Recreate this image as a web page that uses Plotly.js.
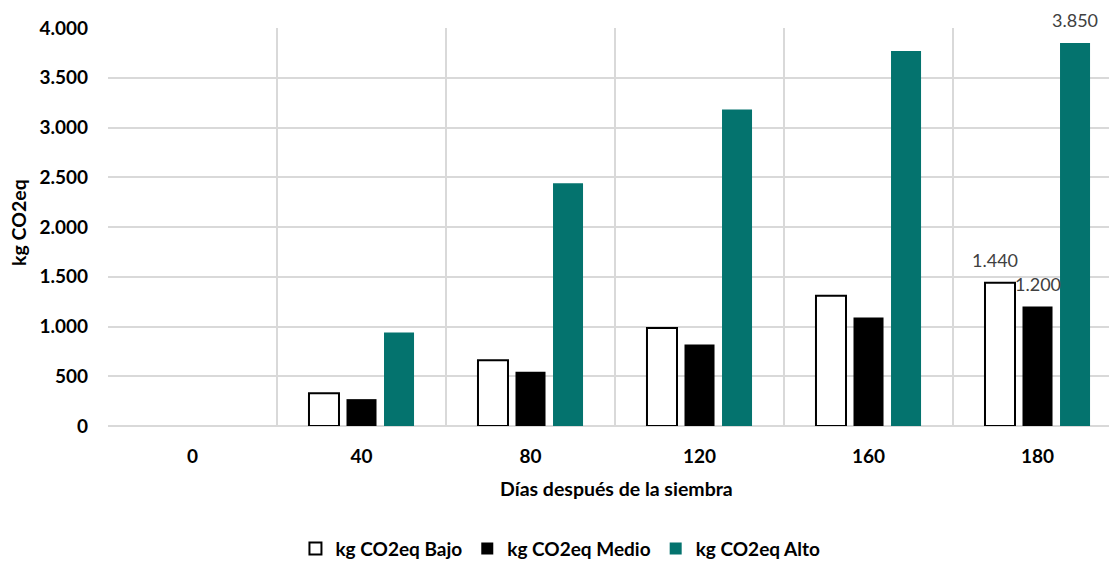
<!DOCTYPE html>
<html>
<head>
<meta charset="utf-8">
<script src="https://cdn.plot.ly/plotly-3.0.1.min.js"></script>
<style>html,body{margin:0;padding:0;background:#fff;}#chart{width:1109px;height:562px;}</style>
</head>
<body>
<div id="chart"></div>
<script>
const categories = ["0", "40", "80", "120", "160", "180"];
const bajo  = [0, 330, 660, 985, 1310, 1440];
const medio = [0, 270, 545, 820, 1090, 1200];
const alto  = [0, 940, 2440, 3180, 3770, 3850];
const seriesNames = ["kg CO2eq Bajo", "kg CO2eq Medio", "kg CO2eq Alto"];
const yTickVals = [0, 500, 1000, 1500, 2000, 2500, 3000, 3500, 4000];
const yTickText = ["0", "500", "1.000", "1.500", "2.000", "2.500", "3.000", "3.500", "4.000"];
const xTitle = "Días después de la siembra";
const yTitle = "kg CO2eq";
// labelled points: [series index, category index, value]
const labelled = [[0, 5, 1440], [1, 5, 1200], [2, 5, 3850]];

const FONT = "Lato, 'Open Sans', sans-serif";
const tickFont = {family: FONT, size: 19, color: "#000", weight: "bold"};
const titleFont = {family: FONT, size: 19.5, color: "#000", weight: "bold"};

// zero-height bars are not drawn in the reference (no outline at day 0)
const hideZero = arr => arr.map(v => (v > 0 ? v : null));

const traces = [
  {type: "bar", name: seriesNames[0], x: categories, y: hideZero(bajo),
   marker: {color: "#ffffff", line: {color: "#000000", width: 2}}},
  {type: "bar", name: seriesNames[1], x: categories, y: hideZero(medio),
   marker: {color: "#000000", line: {width: 0}}},
  {type: "bar", name: seriesNames[2], x: categories, y: hideZero(alto),
   marker: {color: "#04736E", line: {width: 0}}}
];

const offsets = [-0.222, 0, 0.222];
const xShifts = [-5, 0, 0];
const fmtThousands = v => (v >= 1000 ? Math.floor(v / 1000) + "." + String(v % 1000).padStart(3, "0") : String(v));
const annotations = labelled.map(([s, c, v]) => ({
  xref: "x", yref: "y", x: c + offsets[s], y: v,
  text: fmtThousands(v),
  showarrow: false, yshift: 23, xshift: xShifts[s],
  font: {family: FONT, size: 18, color: "#404040"}
}));
annotations.push({
  xref: "paper", yref: "paper", x: 0.5075, y: -0.158, xanchor: "center", yanchor: "middle",
  text: xTitle, showarrow: false, font: titleFont
});
annotations.push({
  xref: "paper", yref: "paper", x: -0.089, y: 0.5126, xanchor: "center", yanchor: "middle",
  text: yTitle, textangle: -90, showarrow: false, font: titleFont
});

const layout = {
  width: 1109, height: 562,
  margin: {l: 108, r: 0, t: 28, b: 136, autoexpand: false},
  paper_bgcolor: "#fff", plot_bgcolor: "#fff",
  barmode: "group", bargap: 0.334, bargroupgap: 0.2,
  showlegend: true,
  legend: {orientation: "h", x: 0.452, xanchor: "center", y: -0.308, yanchor: "middle",
           font: {family: FONT, size: 19, color: "#000", weight: "bold"}, traceorder: "normal"},
  xaxis: {type: "category", range: [-0.5, 5.423], tickson: "boundaries",
          showgrid: true, gridcolor: "#d9d9d9", gridwidth: 2,
          ticks: "", tickfont: tickFont, showline: false, zeroline: false,
          ticklabelstandoff: 17, automargin: false},
  yaxis: {range: [0, 4000], tickvals: yTickVals, ticktext: yTickText,
          showgrid: true, gridcolor: "#d9d9d9", gridwidth: 2, zeroline: true,
          zerolinecolor: "#d9d9d9", zerolinewidth: 2, showline: false,
          tickfont: tickFont, ticks: "", ticklabelstandoff: 19, automargin: false},
  annotations: annotations
};

Plotly.newPlot("chart", traces, layout, {displayModeBar: false, staticPlot: true});
</script>
</body>
</html>
